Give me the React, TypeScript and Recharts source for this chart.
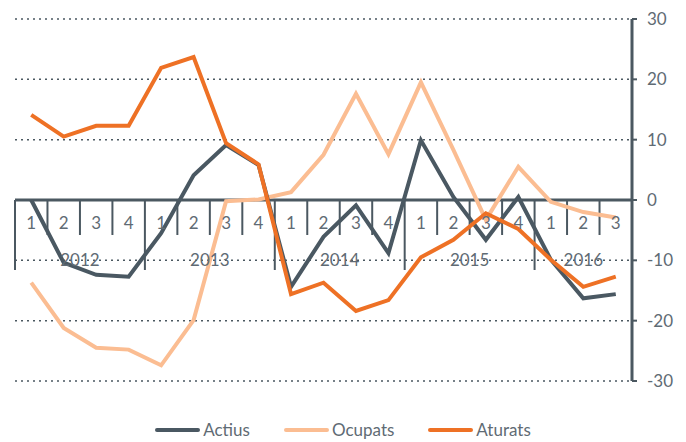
import React from 'react';
import { LineChart, Line, XAxis, YAxis, CartesianGrid, ReferenceLine, ReferenceDot, Legend } from 'recharts';

const quarterLabels = ['1', '2', '3', '4', '1', '2', '3', '4', '1', '2', '3', '4', '1', '2', '3', '4', '1', '2', '3'];
const yearLabels = ['2012', '2013', '2014', '2015', '2016'];
const yearStarts = [0, 4, 8, 12, 16, 19];
const yTicks = [-30, -20, -10, 0, 10, 20, 30];

const actius = [0, -10.4, -12.4, -12.7, -5.5, 4.1, 9.1, 5.8, -14.4, -6.1, -0.9, -8.8, 9.9, 0.5, -6.6, 0.5, -9.9, -16.3, -15.6];
const ocupats = [-13.7, -21.2, -24.5, -24.8, -27.4, -19.9, -0.2, 0.1, 1.3, 7.5, 17.6, 7.6, 19.5, 8.3, -3.3, 5.5, -0.3, -2.0, -2.9];
const aturats = [14.1, 10.5, 12.3, 12.3, 21.9, 23.7, 9.4, 5.9, -15.6, -13.7, -18.4, -16.6, -9.5, -6.6, -2.2, -4.8, -9.9, -14.4, -12.7];

const AXIS = '#4b5861';
const TEXT = '#5f6b74';
const FONT = 'Lato, "Open Sans", sans-serif';

const series = [
  { key: 'actius', name: 'Actius', color: '#4a5862' },
  { key: 'ocupats', name: 'Ocupats', color: '#fbbd92' },
  { key: 'aturats', name: 'Aturats', color: '#ee7125' },
];

const data = quarterLabels.map((q, i) => ({
  x: i + 0.5,
  q,
  actius: actius[i],
  ocupats: ocupats[i],
  aturats: aturats[i],
}));

const LegendContent = () => (
  <div style={{ display: 'flex', justifyContent: 'center', alignItems: 'center', fontFamily: FONT, fontSize: 17, color: TEXT }}>
    {series.map((s) => (
      <div key={s.key} style={{ display: 'flex', alignItems: 'center', margin: '0 17px' }}>
        <span style={{ display: 'inline-block', width: 45, height: 4, borderRadius: 2, background: s.color, marginRight: 3 }} />
        <span>{s.name}</span>
      </div>
    ))}
  </div>
);

export default function App() {
  return (
    <div style={{ position: 'absolute', left: 0, top: 0 }}>
      <LineChart width={686} height={442} data={data} margin={{ top: 19, right: 0, left: 15, bottom: 61 }}>
        <CartesianGrid vertical={false} stroke={AXIS} strokeDasharray="2 4" strokeWidth={1.5} />
        <XAxis dataKey="x" type="number" domain={[0, quarterLabels.length]} hide />
        <YAxis
          orientation="right"
          width={54}
          domain={[-30, 30]}
          ticks={yTicks}
          interval={0}
          axisLine={{ stroke: AXIS, strokeWidth: 3 }}
          tickLine={{ stroke: AXIS, strokeWidth: 2 }}
          tickSize={5}
          tickMargin={10}
          tick={{ fill: TEXT, fontSize: 17, fontFamily: FONT, textAnchor: 'start' }}
        />
        <ReferenceLine y={0} stroke={AXIS} strokeWidth={3} />
        {quarterLabels.map((_, i) => (
          <ReferenceLine
            key={'t' + i}
            segment={[{ x: i, y: 0 }, { x: i, y: yearStarts.includes(i) ? -11.6 : -5.8 }]}
            stroke={AXIS}
            strokeWidth={2}
          />
        ))}
        {quarterLabels.map((q, i) => (
          <ReferenceDot
            key={'q' + i}
            x={i + 0.5}
            y={-3.8}
            r={1}
            fill="none"
            stroke="none"
            label={{ value: q, position: 'center', fill: TEXT, fontSize: 17, fontFamily: FONT }}
          />
        ))}
        {yearLabels.map((y, i) => (
          <ReferenceDot
            key={'y' + i}
            x={(yearStarts[i] + yearStarts[i + 1]) / 2}
            y={-10}
            r={1}
            fill="none"
            stroke="none"
            label={{ value: y, position: 'center', fill: TEXT, fontSize: 17, fontFamily: FONT }}
          />
        ))}
        <Line dataKey="ocupats" name="Ocupats" stroke="#fbbd92" strokeWidth={4} dot={false} isAnimationActive={false} />
        <Line dataKey="actius" name="Actius" stroke="#4a5862" strokeWidth={4} dot={false} isAnimationActive={false} />
        <Line dataKey="aturats" name="Aturats" stroke="#ee7125" strokeWidth={4} dot={false} isAnimationActive={false} />
        <Legend verticalAlign="middle" align="center" content={LegendContent} wrapperStyle={{ top: 419, left: 0, width: 686 }} />
      </LineChart>
    </div>
  );
}
